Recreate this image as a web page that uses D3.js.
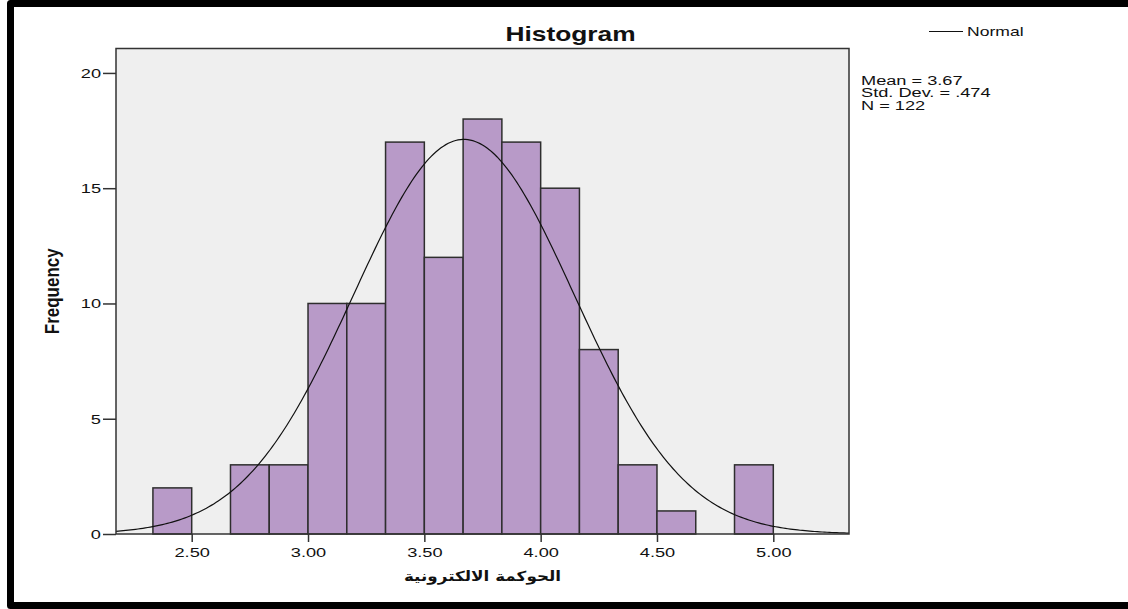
<!DOCTYPE html>
<html>
<head>
<meta charset="utf-8">
<script src="https://cdn.jsdelivr.net/npm/d3@7"></script>
<style>
    html, body { margin: 0; background: #fff; overflow: hidden; }
    svg { display: block; }
    text { font-family: "Liberation Sans", Arial, sans-serif; fill: #111; }
</style>
</head>
<body>
<div id="chart"></div>
<script>

// histogram bins (lower / upper edges) and their counts
const binLower = [2.3333, 2.5, 2.6667, 2.8333, 3.0, 3.1667, 3.3333, 3.5, 3.6667, 3.8333, 4.0, 4.1667, 4.3333, 4.5, 4.6667, 4.8333];
const binUpper = [2.5, 2.6667, 2.8333, 3.0, 3.1667, 3.3333, 3.5, 3.6667, 3.8333, 4.0, 4.1667, 4.3333, 4.5, 4.6667, 4.8333, 5.0];
const counts   = [2, 0, 3, 3, 10, 10, 17, 12, 18, 17, 15, 8, 3, 1, 0, 3];

const xTicks = [2.5, 3.0, 3.5, 4.0, 4.5, 5.0];
const yTicks = [0, 5, 10, 15, 20];

// fitted normal curve parameters (as printed on the chart)
const fitMean = 3.67, fitSd = 0.474, fitN = 122;
const statLines = ["Mean = 3.67", "Std. Dev. = .474", "N = 122"];

const titleText = "Histogram";
const xTitle = "الحوكمة الالكترونية";
const yTitle = "Frequency";
const legendLabel = "Normal";

// the source picture is stretched sideways, text looks wide
const SX = 1.35;

let width = 1128, height = 609;
let plot = { left: 116, right: 849, top: 48.5, bottom: 534 };

let svg = d3.select("#chart").append("svg")
    .attr("width", width)
    .attr("height", height);

// outer black frame: top, left and bottom only (right side runs off the picture)
svg.append("path")
    .attr("d", "M" + width + ",3.5 H10.5 V605.5 H" + width)
    .attr("fill", "none")
    .attr("stroke", "#000")
    .attr("stroke-width", 7)
    .attr("stroke-linejoin", "round");

let x = d3.scaleLinear()
    .domain([2.1746, 5.3254])
    .range([plot.left, plot.right]);

let y = d3.scaleLinear()
    .domain([0, 21.06])
    .range([plot.bottom, plot.top]);

// plot background
svg.append("rect")
    .attr("x", plot.left).attr("y", plot.top)
    .attr("width", plot.right - plot.left)
    .attr("height", plot.bottom - plot.top)
    .attr("fill", "#efefef");

// bars
let bins = binLower.map((d, i) => ({ x0: d, x1: binUpper[i], n: counts[i] }))
    .filter(d => d.n > 0);

svg.append("g")
    .selectAll("rect")
    .data(bins)
    .enter()
    .append("rect")
    .attr("x", d => x(d.x0))
    .attr("y", d => y(d.n))
    .attr("width", d => x(d.x1) - x(d.x0))
    .attr("height", d => y(0) - y(d.n))
    .attr("fill", "#b89ac8")
    .attr("stroke", "#2e2e2e")
    .attr("stroke-width", 1.5);

// normal curve scaled to counts
let binWidth = binUpper[0] - binLower[0];
let curvePts = d3.range(0, 301).map(i => {
    let v = x.domain()[0] + (x.domain()[1] - x.domain()[0]) * i / 300;
    let z = (v - fitMean) / fitSd;
    return [v, fitN * binWidth * Math.exp(-0.5 * z * z) / (fitSd * Math.sqrt(2 * Math.PI))];
});

svg.append("path")
    .datum(curvePts)
    .attr("fill", "none")
    .attr("stroke", "#111")
    .attr("stroke-width", 1.2)
    .attr("d", d3.line().x(d => x(d[0])).y(d => y(d[1])));

// plot frame
svg.append("rect")
    .attr("x", plot.left).attr("y", plot.top)
    .attr("width", plot.right - plot.left)
    .attr("height", plot.bottom - plot.top)
    .attr("fill", "none")
    .attr("stroke", "#333")
    .attr("stroke-width", 1.5);

// axes
let xAxis = d3.axisBottom(x).tickValues(xTicks).tickSize(8).tickFormat(d3.format(".2f"));
let yAxis = d3.axisLeft(y).tickValues(yTicks).tickSize(13);

let gx = svg.append("g")
    .attr("transform", "translate(0," + plot.bottom + ")")
    .call(xAxis);
let gy = svg.append("g")
    .attr("transform", "translate(" + plot.left + ",0)")
    .call(yAxis);

[gx, gy].forEach(g => {
    g.select(".domain").remove();
    g.selectAll("line").attr("stroke", "#333").attr("stroke-width", 1.5);
    g.selectAll("text").style("font-family", "'Liberation Sans', Arial, sans-serif")
        .style("font-size", "13.5px").attr("fill", "#222");
});
gx.selectAll("text").attr("y", 13)
    .attr("transform", "scale(" + SX + ",1)");
gy.selectAll("text")
    .attr("x", -15 / SX)
    .attr("transform", "scale(" + SX + ",1)");

function wideText(px, py, str, size, weight, anchor, sx) {
    return svg.append("text")
        .attr("transform", "translate(" + px + "," + py + ") scale(" + (sx || SX) + ",1)")
        .attr("text-anchor", anchor)
        .style("font-size", size + "px")
        .style("font-weight", weight)
        .text(str);
}

// title
wideText(570.5, 41, titleText, 19.5, "bold", "middle");

// axis titles
svg.append("text")
    .attr("transform", "translate(59," + ((plot.top + plot.bottom) / 2) + ") scale(1.15,1) rotate(-90)")
    .attr("text-anchor", "middle")
    .style("font-size", "17px")
    .style("font-weight", "bold")
    .text(yTitle);

svg.append("text")
    .attr("transform", "translate(" + ((plot.left + plot.right) / 2) + ",581) scale(1.2,1)")
    .attr("text-anchor", "middle")
    .style("font-family", "'DejaVu Sans', sans-serif")
    .style("font-size", "14px")
    .style("font-weight", "bold")
    .text(xTitle);

// legend
svg.append("line")
    .attr("x1", 929).attr("x2", 963)
    .attr("y1", 31.5).attr("y2", 31.5)
    .attr("stroke", "#111").attr("stroke-width", 1.2);
wideText(967, 36, legendLabel, 13, "normal", "start");

// stats
statLines.forEach((s, i) => {
    wideText(861, 84.5 + i * 12.6, s, 12.3, "normal", "start", 1.48);
});

</script>
</body>
</html>
